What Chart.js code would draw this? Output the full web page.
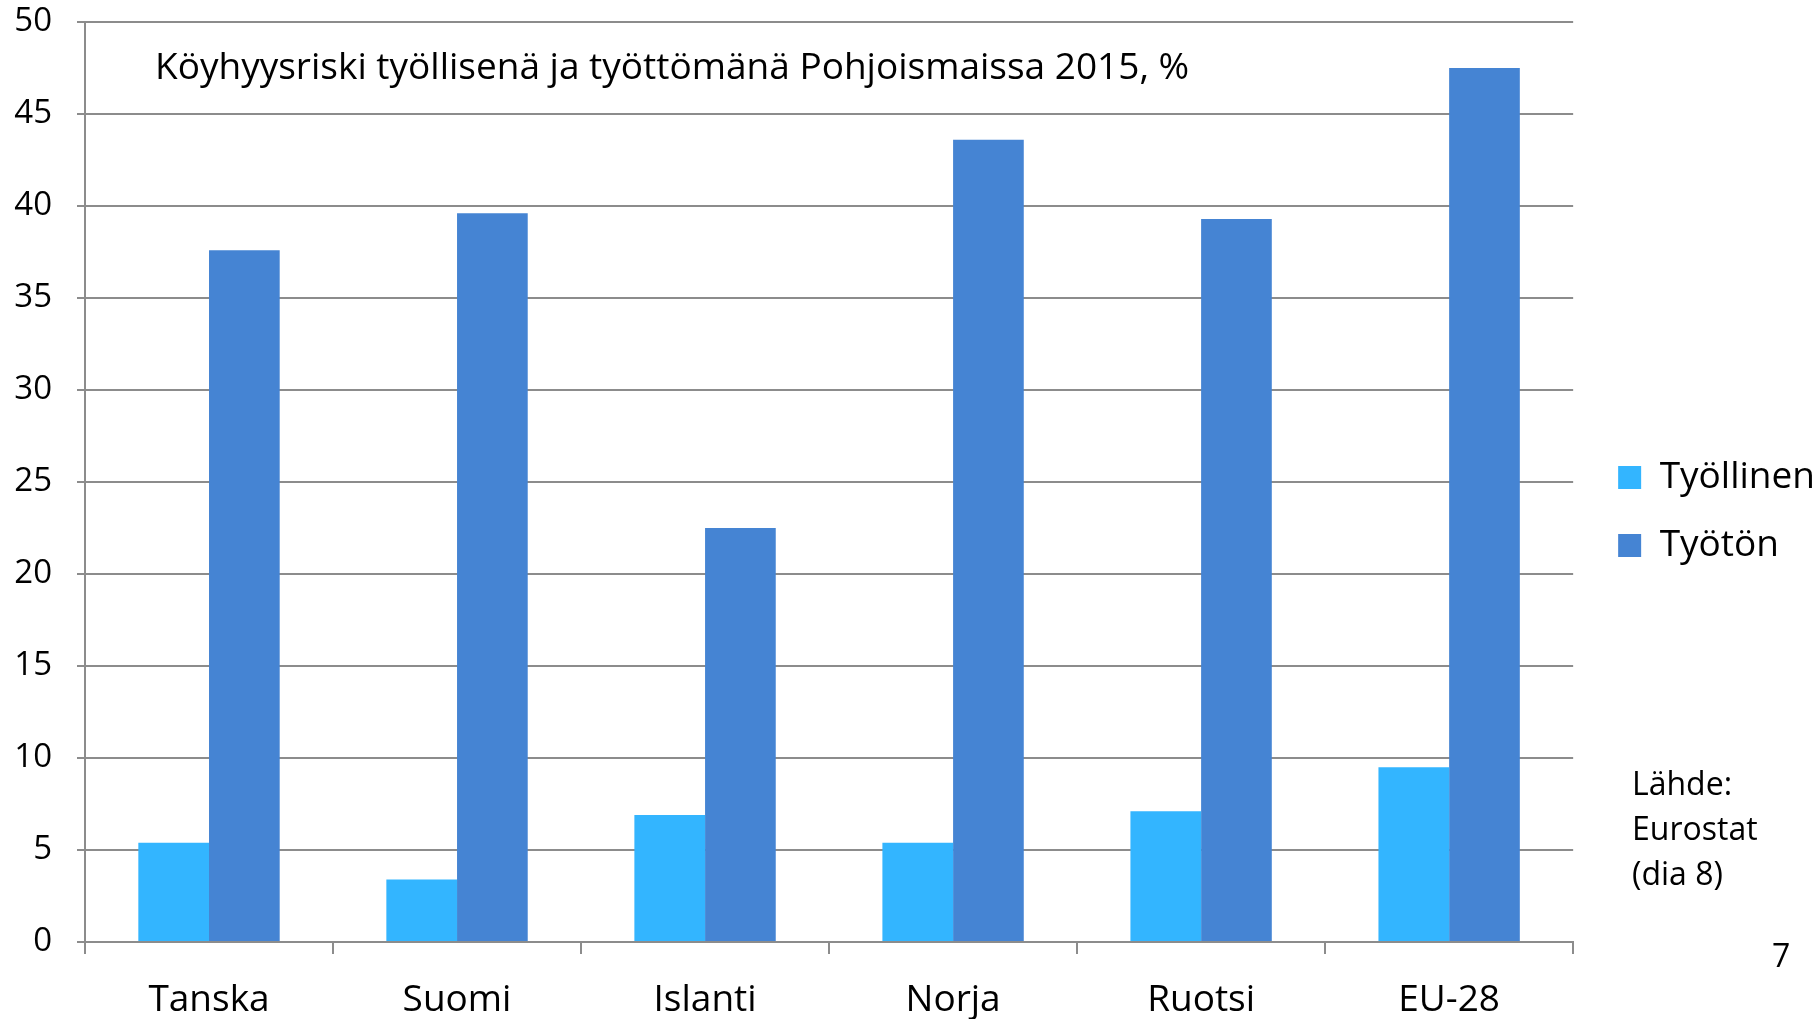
<!DOCTYPE html>
<html>
<head>
<meta charset="utf-8">
<script src="https://cdn.jsdelivr.net/npm/chart.js@4/dist/chart.umd.min.js"></script>
<style>
  body { margin: 0; background: #fff; }
  #wrap { position: relative; width: 1817px; height: 1019px; }
  .note { position: absolute; font-family: "Open Sans", sans-serif; font-size: 32px; color: #000; line-height: 45px; }
</style>
</head>
<body>
<div id="wrap">
  <canvas id="myChart"></canvas>
  <div class="note" style="left:1632px; top:760px;">Lähde:<br>Eurostat<br>(dia 8)</div>
  <div class="note" style="left:1772px; top:932px;">7</div>
</div>
<script>
const categories = ['Tanska', 'Suomi', 'Islanti', 'Norja', 'Ruotsi', 'EU-28'];
const tyollinen = [5.4, 3.4, 6.9, 5.4, 7.1, 9.5];
const tyoton = [37.6, 39.6, 22.5, 43.6, 39.3, 47.5];
const yTicks = [0, 5, 10, 15, 20, 25, 30, 35, 40, 45, 50];
const chartTitle = 'Köyhyysriski työllisenä ja työttömänä Pohjoismaissa 2015, %';

const fontFamily = '"Open Sans", sans-serif';
const gridColor = '#8c8c8c';

// title sits inside the plot area, top left
const innerTitle = {
	id: 'innerTitle',
	afterDraw(chart) {
		const c = chart.ctx;
		const area = chart.chartArea;
		c.save();
		c.font = '37px ' + fontFamily;
		c.fillStyle = '#000';
		c.textBaseline = 'middle';
		c.textAlign = 'left';
		c.fillText(chartTitle, area.left + 70, area.top + 46);
		c.restore();
	}
};

// push legend a bit right of the plot (more gap than chart.js gives)
const legendShift = {
	id: 'legendShift',
	afterLayout(chart) {
		const lg = chart.legend;
		lg.left += 14;
		lg.right += 14;
		lg.top -= 9;
		lg.bottom -= 9;
	}
};

const ctx = document.getElementById('myChart');
let myChart = new Chart(ctx, {
	type: 'bar',
	data: {
		labels: categories,
		datasets: [{
			label: 'Työllinen',
			data: tyollinen,
			backgroundColor: '#33b5ff',
			categoryPercentage: 0.57,
			barPercentage: 1.0
		},
		{
			label: 'Työtön',
			data: tyoton,
			backgroundColor: '#4584d3',
			categoryPercentage: 0.57,
			barPercentage: 1.0
		}]
	},
	options: {
		responsive: true,
		maintainAspectRatio: false,
		animation: false,
		layout: {
			padding: { top: 22, right: 6, left: 0, bottom: 0 }
		},
		plugins: {
			legend: {
				position: 'right',
				labels: {
					font: { family: fontFamily, size: 37 },
					color: '#000',
					boxWidth: 23,
					boxHeight: 23,
					padding: 31
				}
			},
			tooltip: { enabled: false }
		},
		scales: {
			x: {
				grid: {
					display: true,
					drawOnChartArea: false,
					color: gridColor,
					tickLength: 12,
					lineWidth: 2
				},
				border: { color: gridColor, width: 2 },
				ticks: {
					font: { family: fontFamily, size: 37 },
					color: '#000',
					padding: 24
				},
				afterFit(scale) { scale.height = 77; }
			},
			y: {
				min: 0,
				max: 50,
				afterBuildTicks(scale) {
					scale.ticks = yTicks.map(v => ({ value: v }));
				},
				grid: {
					color: gridColor,
					tickLength: 8,
					lineWidth: 2
				},
				border: { color: gridColor, width: 2 },
				ticks: {
					font: { family: fontFamily, size: 33 },
					color: '#000',
					padding: 25
				},
				afterFit(scale) {
					scale.width = 85;
					scale.paddingTop = 0;
					scale.paddingBottom = 0;
				}
			}
		}
	},
	plugins: [innerTitle, legendShift]
});
</script>
</body>
</html>
